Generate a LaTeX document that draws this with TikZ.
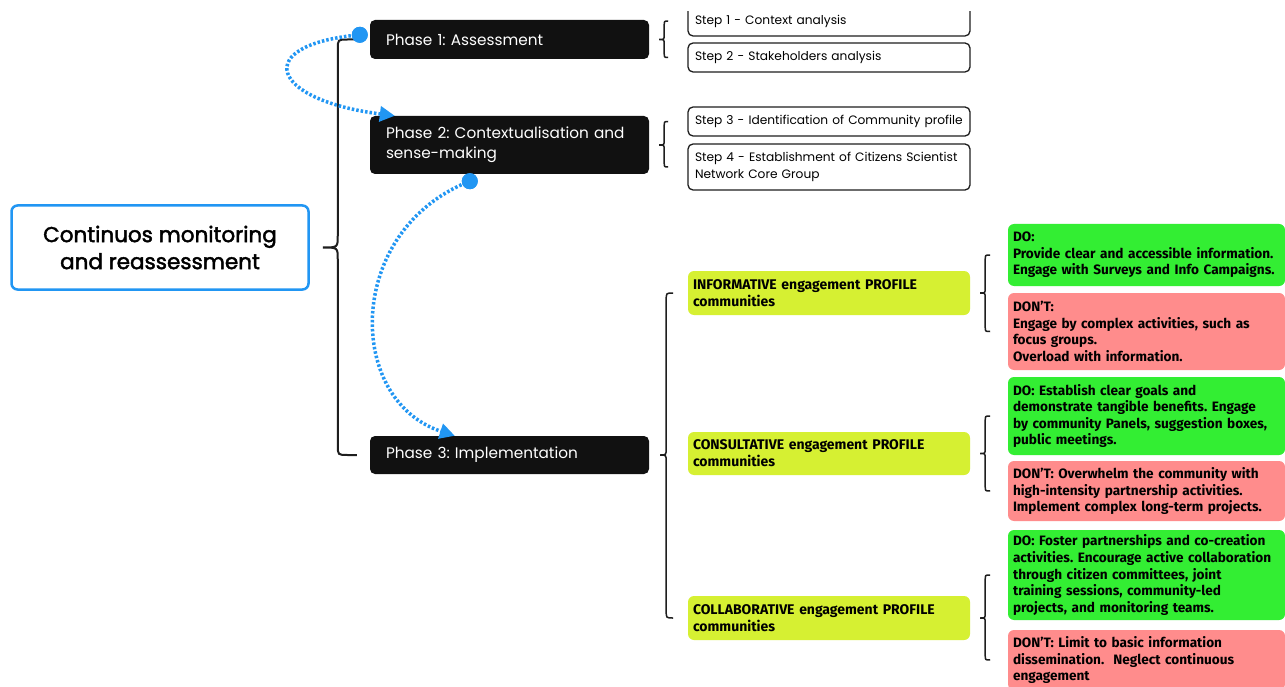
\documentclass[tikz,border=0pt]{standalone}
\usepackage{fontspec}
\usetikzlibrary{arrows.meta,calc}
\setmainfont{Poppins}
\newfontfamily\medfont{Poppins}[FakeBold=2]
\newfontfamily\firafont{Fira Sans}
\frenchspacing

\definecolor{xblue}{HTML}{2196F3}
\definecolor{phaseblack}{HTML}{111111}
\definecolor{lineblack}{HTML}{1E1E1E}
\definecolor{dogreen}{HTML}{33EE33}
\definecolor{dontred}{HTML}{FF8C8C}
\definecolor{profilelime}{HTML}{D6F032}

% curly brace: #1 tip, #2 top node, #3 bottom node, #4 line offset, #5 end offset, #6 radius
\newcommand\curly[6]{%
  \draw[bracel] let \p1=(#1), \p2=(#2), \p3=(#3) in
    (\x1+#5,\y2) .. controls (\x1+#4,\y2) .. (\x1+#4,\y2-#6)
    -- (\x1+#4,\y1+#6) .. controls (\x1+#4,\y1) .. (\x1,\y1)
    .. controls (\x1+#4,\y1) .. (\x1+#4,\y1-#6)
    -- (\x1+#4,\y3+#6) .. controls (\x1+#4,\y3) .. (\x1+#5,\y3);}

\begin{document}
\begin{tikzpicture}[x=1pt,y=-1pt,
  central/.style={draw=xblue, line width=2.5pt, rounded corners=6pt, fill=white,
    minimum width=297pt, minimum height=84pt, align=center, inner sep=0pt,
    font=\medfont\fontsize{21.5}{27}\selectfont},
  phase/.style={fill=phaseblack, text=white, rounded corners=5pt, text width=247pt,
    inner xsep=16pt, inner ysep=0pt, align=left, font=\fontsize{15.3}{20}\selectfont},
  stepbox/.style={draw=lineblack, line width=1.3pt, rounded corners=5pt, fill=white,
    text width=268pt, inner xsep=7pt, inner ysep=0pt, align=left,
    font=\fontsize{12.2}{17}\selectfont},
  profile/.style={fill=profilelime, rounded corners=6pt, text width=272pt,
    inner xsep=5pt, inner ysep=0pt, align=left,
    font=\firafont\bfseries\fontsize{14}{17}\selectfont},
  advice/.style={rounded corners=6pt, text width=267pt, inner xsep=5pt,
    inner ysep=0pt, align=left, font=\firafont\bfseries\fontsize{13.6}{16.6}\selectfont},
  dobox/.style={advice, fill=dogreen},
  dontbox/.style={advice, fill=dontred},
  bracel/.style={draw=lineblack, line width=1.5pt},
  bluedot/.style={circle, fill=xblue, inner sep=0pt, minimum size=16pt},
  bluearrow/.style={draw=xblue, line width=3.5pt, dash pattern=on 2.5pt off 2pt,
    -{Triangle[length=15pt,width=15pt,fill=xblue]}}
]
\useasboundingbox (0,0) rectangle (1285,687);
\fill[white] (0,0) rectangle (1285,687);

% root
\node[central] (c) at (160,247.5) {Continuos monitoring\\and reassessment};

% phases
\node[phase, minimum height=39pt] (p1) at (509.5,39.5) {Phase 1: Assessment};
\node[phase, minimum height=58pt] (p2) at (509.5,145) {Phase 2: Contextualisation and\\sense-making};
\node[phase, minimum height=38pt] (p3) at (509.5,455) {Phase 3: Implementation};

% steps
\begin{scope}
  \clip (0,12) rectangle (1285,687);
  \node[stepbox, minimum height=30pt] (s1) at (829,21) {Step 1 - Context analysis};
\end{scope}
\node[stepbox, minimum height=29pt] (s2) at (829,57.5) {Step 2 - Stakeholders analysis};
\node[stepbox, minimum height=29pt] (s3) at (829,121.5) {Step 3 - Identification of Community profile};
\node[stepbox, minimum height=46pt] (s4) at (829,167) {Step 4 - Establishment of Citizens Scientist\\Network Core Group};

% engagement profiles
\node[profile, minimum height=44pt] (y1) at (829,293) {INFORMATIVE engagement PROFILE\\communities};
\node[profile, minimum height=43pt] (y2) at (829,453.5) {CONSULTATIVE engagement PROFILE\\communities};
\node[profile, minimum height=44pt] (y3) at (829,618) {COLLABORATIVE engagement PROFILE\\communities};

% do / don't advice
\node[dobox, minimum height=62pt] (g1) at (1146.5,255) {DO:\\Provide clear and accessible information.\\Engage with Surveys and Info Campaigns.};
\node[dontbox, minimum height=77pt] (r1) at (1146.5,331.5) {DON’T:\\Engage by complex activities, such as\\focus groups.\\Overload with information.};
\node[dobox, minimum height=78pt] (g2) at (1146.5,416) {DO: Establish clear goals and\\demonstrate tangible benefits. Engage\\by community Panels, suggestion boxes,\\public meetings.};
\node[dontbox, minimum height=60pt] (r2) at (1146.5,491) {DON’T: Overwhelm the community with\\high-intensity partnership activities.\\Implement complex long-term projects.};
\node[dobox, minimum height=90pt] (g3) at (1146.5,575) {DO: Foster partnerships and co-creation\\activities. Encourage active collaboration\\through citizen committees, joint\\training sessions, community-led\\projects, and monitoring teams.};
\node[dontbox, minimum height=60pt] (r3) at (1146.5,660) {DON’T: Limit to basic information\\dissemination.\ \ Neglect continuous\\engagement};

% root brace onto the three phases
\coordinate (mt) at ([xshift=13pt]c.east);
\draw[bracel, line width=2pt] let \p1=(mt), \p2=(p1.west), \p3=(p3.west) in
  (\x2-12pt,\y2) -- (\x1+25pt,\y2) .. controls (\x1+15pt,\y2) .. (\x1+15pt,\y2-10pt)
  -- (\x1+15pt,\y1+12pt) .. controls (\x1+15pt,\y1) .. (\x1,\y1)
  .. controls (\x1+15pt,\y1) .. (\x1+15pt,\y1-12pt)
  -- (\x1+15pt,\y3+10pt) .. controls (\x1+15pt,\y3) .. (\x1+25pt,\y3) -- (\x3-13pt,\y3);

% phase braces
\coordinate (tA) at ([xshift=10pt]p1.east);
\coordinate (tB) at ([xshift=10pt]p2.east);
\coordinate (tC) at ([xshift=11pt]p3.east);
\curly{tA}{s1}{s2}{5pt}{9pt}{5pt}
\curly{tB}{s3}{s4}{5pt}{9pt}{5pt}
\curly{tC}{y1}{y3}{6pt}{13pt}{7pt}

% profile braces
\coordinate (tD) at ([xshift=10pt]y1.east);
\coordinate (tE) at ([xshift=10pt]y2.east);
\coordinate (tF) at ([xshift=10pt]y3.east);
\curly{tD}{g1}{r1}{5pt}{10pt}{5pt}
\curly{tE}{g2}{r2}{5pt}{10pt}{5pt}
\curly{tF}{g3}{r3}{5pt}{10pt}{5pt}

% dotted flow between phases
\node[bluedot] (d1) at ([shift={(-10,15)}]p1.north west) {};
\node[bluedot] (d2) at ([shift={(100,7)}]p2.south west) {};
\draw[bluearrow] (d1.center) .. controls (250,45) and (270,100) .. ([xshift=25pt]p2.north west);
\draw[bluearrow] (d2.center) .. controls (345,230) and (345,400) .. ([xshift=85pt]p3.north west);
\node[bluedot] at (d1) {};
\node[bluedot] at (d2) {};
\end{tikzpicture}
\end{document}
